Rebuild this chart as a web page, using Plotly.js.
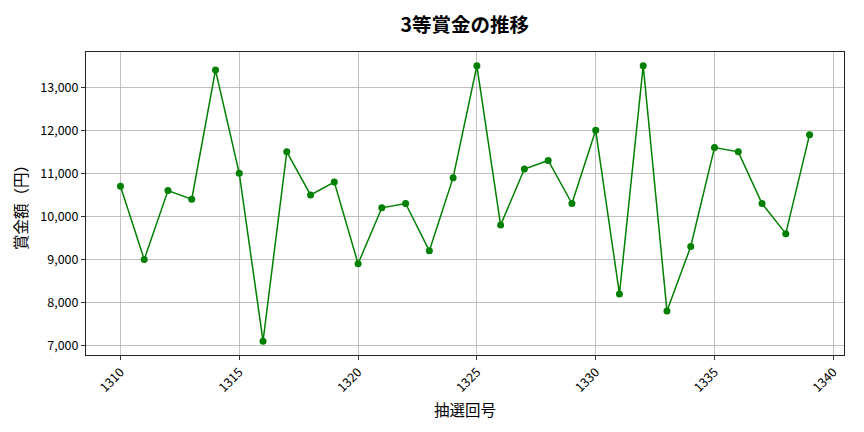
<!DOCTYPE html>
<html>
<head>
<meta charset="utf-8">
<script src="https://cdn.plot.ly/plotly-3.0.1.min.js"></script>
<style>
  html, body { margin: 0; padding: 0; background: #fff; }
  #chart { width: 864px; height: 432px; }
</style>
</head>
<body>
<div id="chart"></div>
<script>
// 抽選回 and 3等賞金 (円)
const drawNumbers = [1310, 1311, 1312, 1313, 1314, 1315, 1316, 1317, 1318, 1319,
                     1320, 1321, 1322, 1323, 1324, 1325, 1326, 1327, 1328, 1329,
                     1330, 1331, 1332, 1333, 1334, 1335, 1336, 1337, 1338, 1339];
const prizeYen = [10700, 9000, 10600, 10400, 13400, 11000, 7100, 11500, 10500, 10800,
                  8900, 10200, 10300, 9200, 10900, 13500, 9800, 11100, 11300, 10300,
                  12000, 8200, 13500, 7800, 9300, 11600, 11500, 10300, 9600, 11900];
const xTicks = [1310, 1315, 1320, 1325, 1330, 1335, 1340];
const yTicks = [7000, 8000, 9000, 10000, 11000, 12000, 13000];

const font = "'Noto Sans CJK JP', 'Noto Sans', sans-serif";

// matplotlib-like 5% padding around the data
function padRange(vals) {
  const lo = Math.min(...vals), hi = Math.max(...vals);
  const p = (hi - lo) * 0.05;
  return [lo - p, hi + p];
}

Plotly.newPlot("chart", [{
  x: drawNumbers,
  y: prizeYen,
  type: "scatter",
  mode: "lines+markers",
  line: { color: "#008000", width: 1.5 },
  marker: { color: "#008000", size: 7 },
  hoverinfo: "x+y"
}], {
  width: 864,
  height: 432,
  title: {
    text: "<b>3等賞金の推移</b>",
    font: { family: font, size: 19.5, color: "#000" },
    x: 0.538, xanchor: "center",
    y: 0.941, yanchor: "middle"
  },
  paper_bgcolor: "#fff",
  plot_bgcolor: "#fff",
  showlegend: false,
  margin: { l: 86, r: 20, t: 52, b: 77 },
  xaxis: {
    title: { text: "抽選回号", font: { family: font, size: 15.5, color: "#000" }, standoff: 10 },
    range: padRange(drawNumbers),
    tickvals: xTicks,
    ticktext: xTicks.map(String),
    tickangle: -45,
    tickfont: { family: font, size: 12.5, color: "#000" },
    ticks: "outside", ticklen: 4, tickcolor: "#333",
    showgrid: true, gridcolor: "#b0b0b0", gridwidth: 0.8,
    showline: true, linecolor: "#222", linewidth: 1, mirror: true,
    zeroline: false
  },
  yaxis: {
    title: { text: "賞金額（円）", font: { family: font, size: 15.5, color: "#000" }, standoff: 8 },
    range: padRange(prizeYen),
    tickvals: yTicks,
    ticktext: yTicks.map(v => v.toLocaleString("en-US")),
    tickfont: { family: font, size: 12.5, color: "#000" },
    ticks: "outside", ticklen: 4, tickcolor: "#333",
    showgrid: true, gridcolor: "#b0b0b0", gridwidth: 0.8,
    showline: true, linecolor: "#222", linewidth: 1, mirror: true,
    zeroline: false
  }
}, { displayModeBar: false, staticPlot: true });
</script>
</body>
</html>
